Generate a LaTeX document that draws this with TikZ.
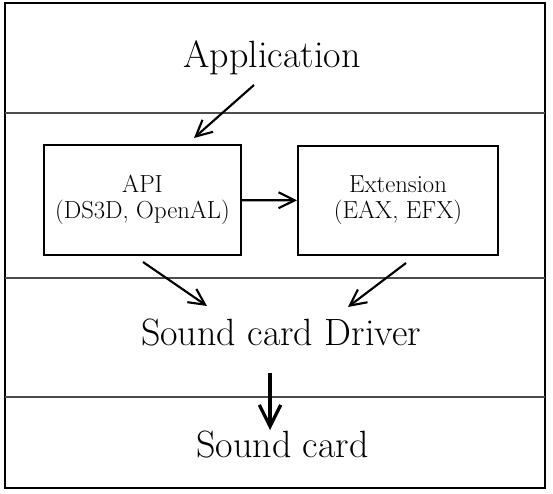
\documentclass[tikz,border=0pt]{standalone}
\usetikzlibrary{arrows.meta}
\begin{document}
\begin{tikzpicture}[x=0.75pt, y=-0.75pt,
    big/.style={font=\fontsize{28.5}{34}\selectfont, inner sep=0pt},
    layer/.style={draw, line width=1.6pt, align=center, font=\fontsize{18.5}{19.5}\selectfont, minimum height=82pt},
    sep/.style={draw=black!70, line width=1.2pt},
    >={Straight Barb[length=12pt,width=12pt]},
    flow/.style={->, line width=1.6pt}]
         \useasboundingbox (0,0) rectangle (553,493);
         \draw [line width=1.8pt] (5,3) rectangle (545,488);
         \draw [sep] (5,113) -- (545,113);
         \draw [sep] (5,278) -- (545,278);
         \draw [sep] (5,397) -- (545,397);
         \node [big, anchor=base] (app) at (272,67) {Application};
         \node [layer, minimum width=148pt] (api) at (142.5,200) {API\\(DS3D, OpenAL)};
         \node [layer, minimum width=150pt] (ext) at (398,200.5) {Extension\\(EAX, EFX)};
         \node [big, anchor=base] (drv) at (281,345) {Sound card Driver};
         \node [big, anchor=base] (card) at (282.5,457) {Sound card};
         \coordinate (appout) at (254,85);
         \coordinate (apiin) at (194,138);
         \coordinate (apiout) at (143,262);
         \coordinate (extout) at (406,263);
         \coordinate (drvinl) at (207,306);
         \coordinate (drvinr) at (348,307);
         \coordinate (drvout) at (270,373);
         \coordinate (cardin) at (270,430);
         \draw [flow] (appout) -- (apiin);
         \draw [flow] (api) -- (ext);
         \draw [flow] (apiout) -- (drvinl);
         \draw [flow] (extout) -- (drvinr);
         \draw [->, line width=2.5pt, >={Straight Barb[length=16pt,width=16pt]}] (drvout) -- (cardin);
\end{tikzpicture}
\end{document}
